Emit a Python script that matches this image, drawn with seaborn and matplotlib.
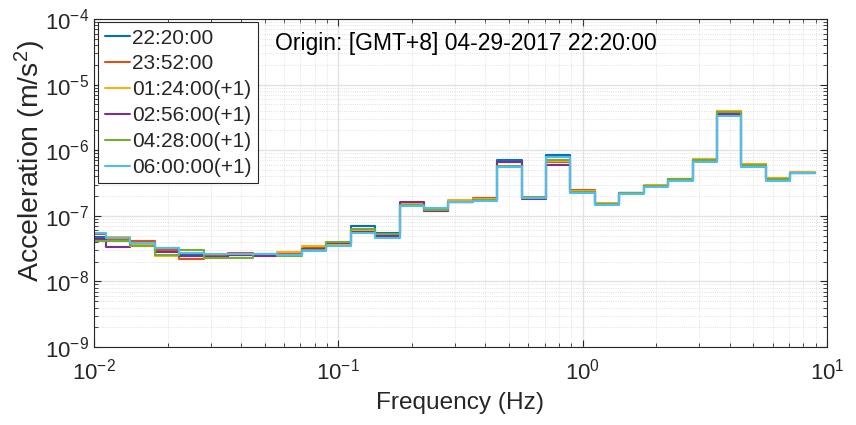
import numpy as np
import pandas as pd
import matplotlib
matplotlib.use("Agg")
import matplotlib.pyplot as plt
import matplotlib.ticker as mticker
import seaborn as sns

# ---- data -------------------------------------------------------------
# third-octave band centre frequencies (Hz)
band_centers = [0.01, 0.0126, 0.0158, 0.02, 0.0251, 0.0316, 0.0398, 0.0501, 0.0631, 0.0794,
                0.1, 0.126, 0.158, 0.2, 0.251, 0.316, 0.398, 0.501, 0.631, 0.794,
                1.0, 1.26, 1.58, 2.0, 2.51, 3.16, 3.98, 5.01, 6.31, 7.94]

series_names = ["22:20:00", "23:52:00", "01:24:00(+1)", "02:56:00(+1)", "04:28:00(+1)", "06:00:00(+1)"]

acc_2220 = [4.7e-8, 4.4e-8, 3.9e-8, 3.2e-8, 2.5e-8, 2.4e-8, 2.5e-8, 2.5e-8, 2.5e-8, 3.1e-8,
            3.6e-8, 7.0e-8, 5.5e-8, 1.5e-7, 1.28e-7, 1.62e-7, 1.75e-7, 7.0e-7, 1.9e-7, 8.4e-7,
            2.4e-7, 1.5e-7, 2.2e-7, 2.8e-7, 3.55e-7, 6.8e-7, 3.7e-6, 5.8e-7, 3.6e-7, 4.5e-7]
acc_2352 = [5.2e-8, 4.5e-8, 4.15e-8, 3.0e-8, 2.17e-8, 2.45e-8, 2.75e-8, 2.6e-8, 2.7e-8, 3.3e-8,
            3.8e-8, 6.0e-8, 5.0e-8, 1.55e-7, 1.2e-7, 1.65e-7, 1.85e-7, 6.5e-7, 1.85e-7, 6.6e-7,
            2.45e-7, 1.52e-7, 2.2e-7, 2.85e-7, 3.7e-7, 7.1e-7, 3.9e-6, 6.2e-7, 3.7e-7, 4.55e-7]
acc_0124 = [4.4e-8, 4.8e-8, 3.6e-8, 2.45e-8, 2.4e-8, 2.3e-8, 2.5e-8, 2.5e-8, 2.85e-8, 3.5e-8,
            3.7e-8, 5.8e-8, 4.8e-8, 1.5e-7, 1.22e-7, 1.72e-7, 1.8e-7, 5.6e-7, 1.9e-7, 6.9e-7,
            2.4e-7, 1.55e-7, 2.25e-7, 2.9e-7, 3.7e-7, 7.3e-7, 4.0e-6, 6.1e-7, 3.75e-7, 4.6e-7]
acc_0256 = [4.5e-8, 3.3e-8, 3.5e-8, 2.85e-8, 2.4e-8, 2.35e-8, 2.5e-8, 2.45e-8, 2.55e-8, 3.1e-8,
            3.8e-8, 5.7e-8, 5.0e-8, 1.62e-7, 1.18e-7, 1.62e-7, 1.75e-7, 6.7e-7, 1.83e-7, 5.9e-7,
            2.3e-7, 1.5e-7, 2.2e-7, 2.8e-7, 3.55e-7, 6.9e-7, 3.6e-6, 5.9e-7, 3.6e-7, 4.5e-7]
acc_0428 = [4.2e-8, 4.2e-8, 3.5e-8, 2.5e-8, 3.0e-8, 2.3e-8, 2.3e-8, 2.65e-8, 2.45e-8, 3.0e-8,
            4.05e-8, 6.2e-8, 5.2e-8, 1.45e-7, 1.22e-7, 1.6e-7, 1.72e-7, 5.7e-7, 1.95e-7, 7.1e-7,
            2.3e-7, 1.5e-7, 2.2e-7, 2.85e-7, 3.6e-7, 7.0e-7, 3.8e-6, 6.0e-7, 3.6e-7, 4.5e-7]
acc_0600 = [5.5e-8, 4.55e-8, 3.8e-8, 3.2e-8, 2.68e-8, 2.6e-8, 2.62e-8, 2.6e-8, 2.5e-8, 2.95e-8,
            3.5e-8, 5.4e-8, 4.6e-8, 1.42e-7, 1.3e-7, 1.6e-7, 1.7e-7, 5.5e-7, 1.9e-7, 7.8e-7,
            2.2e-7, 1.45e-7, 2.15e-7, 2.72e-7, 3.4e-7, 6.5e-7, 3.35e-6, 5.5e-7, 3.45e-7, 4.42e-7]

all_series = [acc_2220, acc_2352, acc_0124, acc_0256, acc_0428, acc_0600]

colors = ["#0072BD", "#D95319", "#EDB120", "#7E2F8E", "#77AC30", "#4DBEEE"]
origin_text = "Origin: [GMT+8] 04-29-2017 22:20:00"

# ---- build long table: band lower edges + final upper edge (stairs) ----
half_band = 10 ** 0.05
rows = []
for name, vals in zip(series_names, all_series):
    for fc, v in zip(band_centers, vals):
        rows.append((name, fc / half_band, v))
    rows.append((name, band_centers[-1] * half_band, vals[-1]))
df = pd.DataFrame(rows, columns=["series", "freq", "acc"])

# ---- plot ---------------------------------------------------------------
sns.set_style("ticks")
plt.rcParams["font.family"] = ["Liberation Sans", "DejaVu Sans"]
plt.rcParams["mathtext.fontset"] = "custom"
plt.rcParams["mathtext.rm"] = "Liberation Sans"
plt.rcParams["mathtext.it"] = "Liberation Sans:italic"

fig = plt.figure(figsize=(8.56, 4.25), dpi=100)
ax = fig.add_axes([0.1098, 0.1835, 0.8563, 0.7718])

sns.lineplot(data=df, x="freq", y="acc", hue="series", hue_order=series_names,
             palette=colors, estimator=None, sort=False, drawstyle="steps-post",
             linewidth=1.5, ax=ax, legend=True)

ax.set_xscale("log")
ax.set_yscale("log")
ax.set_xlim(1e-2, 1e1)
ax.set_ylim(1e-9, 1e-4)

ax.xaxis.set_major_locator(mticker.LogLocator(base=10, numticks=10))
ax.xaxis.set_minor_locator(mticker.LogLocator(base=10, subs=np.arange(2, 10), numticks=20))
ax.yaxis.set_major_locator(mticker.LogLocator(base=10, numticks=10))
ax.yaxis.set_minor_locator(mticker.LogLocator(base=10, subs=np.arange(2, 10), numticks=20))
ax.xaxis.set_minor_formatter(mticker.NullFormatter())
ax.yaxis.set_minor_formatter(mticker.NullFormatter())

ax.grid(True, which="major", color="#e3e3e3", linewidth=1.0, linestyle="-")
ax.grid(True, which="minor", color="#d8d8d8", linewidth=0.6, linestyle=":")
ax.set_axisbelow(True)

ax.tick_params(which="both", direction="in", top=True, right=True, colors="#262626",
               labelsize=16, labelcolor="#262626")
ax.tick_params(which="major", length=5, width=0.8)
ax.tick_params(which="minor", length=3, width=0.6)
ax.tick_params(axis="x", pad=8)
for sp in ax.spines.values():
    sp.set_visible(True)
    sp.set_color("#262626")
    sp.set_linewidth(0.8)

ax.set_xlabel("Frequency (Hz)", fontsize=17.6, color="#262626", labelpad=6)
ax.set_ylabel("Acceleration (m/s$^2$)", fontsize=20.5, color="#262626", va="center")
ax.yaxis.set_label_coords(-0.087, 0.566)

ax.text(0.247, 0.925, origin_text, transform=ax.transAxes, fontsize=16.5,
        ha="left", va="center", color="black")

handles, labels = ax.get_legend_handles_labels()
leg = ax.legend(handles, labels, loc="upper left", bbox_to_anchor=(0.006, 0.99),
                borderaxespad=0, fontsize=15, frameon=True, fancybox=False,
                edgecolor="#262626", framealpha=1, handlelength=1.2,
                handletextpad=0.12, labelspacing=0.33, borderpad=0.3)
leg.get_frame().set_linewidth(0.8)

fig.savefig("out.png", dpi=100)
